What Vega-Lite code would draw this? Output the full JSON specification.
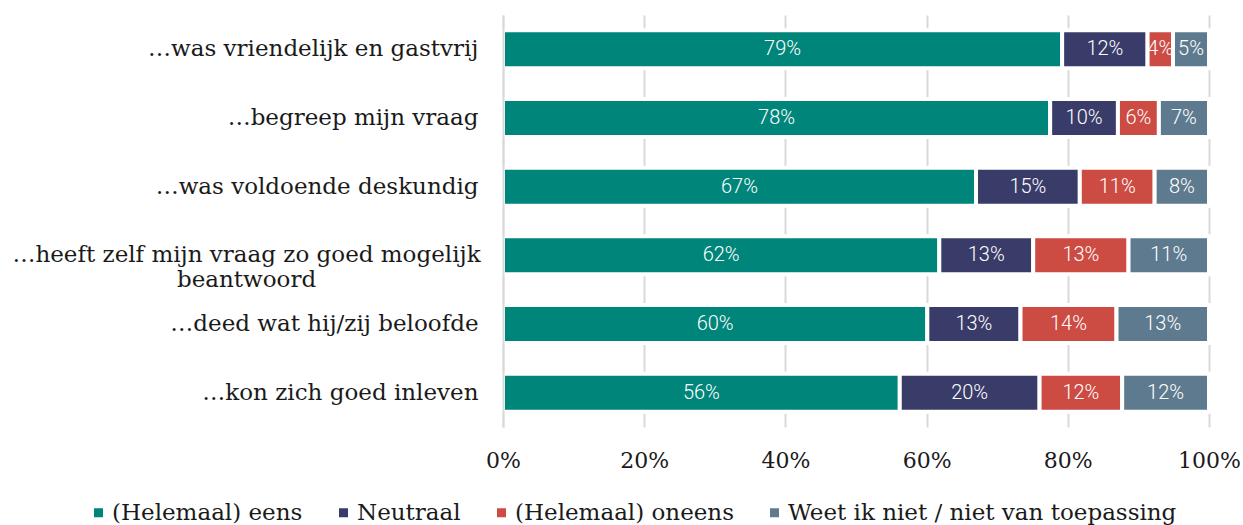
{
  "$schema": "https://vega.github.io/schema/vega-lite/v6.json",
  "width": 706,
  "height": 412,
  "autosize": {"type": "none"},
  "padding": {"left": 503, "top": 15, "right": 34, "bottom": 98},
  "background": "white",
  "data": {
    "values": [
      {"q": "…was vriendelijk en gastvrij", "cat": "(Helemaal) eens", "o": 1, "v": 79.2, "label": "79%"},
      {"q": "…was vriendelijk en gastvrij", "cat": "Neutraal", "o": 2, "v": 12.1, "label": "12%"},
      {"q": "…was vriendelijk en gastvrij", "cat": "(Helemaal) oneens", "o": 3, "v": 3.6, "label": "4%"},
      {"q": "…was vriendelijk en gastvrij", "cat": "Weet ik niet / niet van toepassing", "o": 4, "v": 5.1, "label": "5%"},
      {"q": "…begreep mijn vraag", "cat": "(Helemaal) eens", "o": 1, "v": 77.5, "label": "78%"},
      {"q": "…begreep mijn vraag", "cat": "Neutraal", "o": 2, "v": 9.6, "label": "10%"},
      {"q": "…begreep mijn vraag", "cat": "(Helemaal) oneens", "o": 3, "v": 5.8, "label": "6%"},
      {"q": "…begreep mijn vraag", "cat": "Weet ik niet / niet van toepassing", "o": 4, "v": 7.1, "label": "7%"},
      {"q": "…was voldoende deskundig", "cat": "(Helemaal) eens", "o": 1, "v": 67.0, "label": "67%"},
      {"q": "…was voldoende deskundig", "cat": "Neutraal", "o": 2, "v": 14.7, "label": "15%"},
      {"q": "…was voldoende deskundig", "cat": "(Helemaal) oneens", "o": 3, "v": 10.6, "label": "11%"},
      {"q": "…was voldoende deskundig", "cat": "Weet ik niet / niet van toepassing", "o": 4, "v": 7.7, "label": "8%"},
      {"q": "…heeft zelf mijn vraag zo goed mogelijk beantwoord", "cat": "(Helemaal) eens", "o": 1, "v": 61.8, "label": "62%"},
      {"q": "…heeft zelf mijn vraag zo goed mogelijk beantwoord", "cat": "Neutraal", "o": 2, "v": 13.3, "label": "13%"},
      {"q": "…heeft zelf mijn vraag zo goed mogelijk beantwoord", "cat": "(Helemaal) oneens", "o": 3, "v": 13.5, "label": "13%"},
      {"q": "…heeft zelf mijn vraag zo goed mogelijk beantwoord", "cat": "Weet ik niet / niet van toepassing", "o": 4, "v": 11.4, "label": "11%"},
      {"q": "…deed wat hij/zij beloofde", "cat": "(Helemaal) eens", "o": 1, "v": 60.1, "label": "60%"},
      {"q": "…deed wat hij/zij beloofde", "cat": "Neutraal", "o": 2, "v": 13.2, "label": "13%"},
      {"q": "…deed wat hij/zij beloofde", "cat": "(Helemaal) oneens", "o": 3, "v": 13.6, "label": "14%"},
      {"q": "…deed wat hij/zij beloofde", "cat": "Weet ik niet / niet van toepassing", "o": 4, "v": 13.1, "label": "13%"},
      {"q": "…kon zich goed inleven", "cat": "(Helemaal) eens", "o": 1, "v": 56.2, "label": "56%"},
      {"q": "…kon zich goed inleven", "cat": "Neutraal", "o": 2, "v": 19.8, "label": "20%"},
      {"q": "…kon zich goed inleven", "cat": "(Helemaal) oneens", "o": 3, "v": 11.7, "label": "12%"},
      {"q": "…kon zich goed inleven", "cat": "Weet ik niet / niet van toepassing", "o": 4, "v": 12.3, "label": "12%"}
    ]
  },
  "transform": [
    {"stack": "v", "groupby": ["q"], "sort": [{"field": "o", "order": "ascending"}], "as": ["x0", "x1"]},
    {"calculate": "(datum.x0 + datum.x1) / 2", "as": "xm"}
  ],
  "encoding": {
    "y": {
      "field": "q",
      "type": "nominal",
      "sort": ["…was vriendelijk en gastvrij", "…begreep mijn vraag", "…was voldoende deskundig", "…heeft zelf mijn vraag zo goed mogelijk beantwoord", "…deed wat hij/zij beloofde", "…kon zich goed inleven"],
      "scale": {"paddingInner": 0.447, "paddingOuter": 0.2235},
      "axis": {
        "title": null,
        "grid": false,
        "ticks": false,
        "domain": true,
        "domainColor": "#d9d9d9",
        "domainWidth": 2,
        "zindex": 1,
        "labelFont": "DejaVu Serif",
        "labelFontSize": 23,
        "labelColor": "#1a1a1a",
        "labelLimit": 700,
        "labelPadding": {"condition": {"test": "indexof(datum.value, 'heeft') >= 0", "value": 257}, "value": 25},
        "labelAlign": {"condition": {"test": "indexof(datum.value, 'heeft') >= 0", "value": "center"}, "value": "right"},
        "labelLineHeight": 25,
        "labelExpr": "indexof(datum.value, 'heeft') >= 0 ? ['…heeft zelf mijn vraag zo goed mogelijk', 'beantwoord'] : datum.value"
      }
    }
  },
  "layer": [
    {
      "mark": {"type": "bar", "stroke": "white", "strokeWidth": 4},
      "encoding": {
        "x": {
          "field": "x0",
          "type": "quantitative",
          "scale": {"domain": [0, 100], "nice": false},
          "axis": {
            "title": null,
            "values": [0, 20, 40, 60, 80, 100],
            "labelExpr": "datum.value + '%'",
            "grid": true,
            "gridColor": "#d9d9d9",
            "gridWidth": 2,
            "domain": false,
            "ticks": false,
            "labelFlush": false,
            "labelPadding": 23,
            "labelFont": "DejaVu Serif",
            "labelFontSize": 22,
            "labelColor": "#1a1a1a"
          }
        },
        "x2": {"field": "x1"},
        "color": {
          "field": "cat",
          "type": "nominal",
          "sort": ["(Helemaal) eens", "Neutraal", "(Helemaal) oneens", "Weet ik niet / niet van toepassing"],
          "scale": {
            "domain": ["(Helemaal) eens", "Neutraal", "(Helemaal) oneens", "Weet ik niet / niet van toepassing"],
            "range": ["#00857a", "#393b69", "#cc4b43", "#5e7a8e"]
          },
          "legend": {
            "title": null,
            "orient": "none",
            "direction": "horizontal",
            "legendX": -416,
            "legendY": 486,
            "symbolType": "square",
            "symbolSize": 81,
            "symbolStrokeWidth": 0,
            "labelFont": "DejaVu Serif",
            "labelFontSize": 23,
            "labelColor": "#1a1a1a",
            "labelOffset": 2,
            "columnPadding": 29,
            "labelLimit": 600
          }
        }
      }
    },
    {
      "mark": {"type": "text", "color": "white", "font": "Roboto", "fontSize": 20, "fontWeight": 300, "baseline": "middle", "align": "center"},
      "encoding": {
        "x": {"field": "xm", "type": "quantitative"},
        "text": {"field": "label"}
      }
    }
  ],
  "config": {"view": {"stroke": null}}
}
